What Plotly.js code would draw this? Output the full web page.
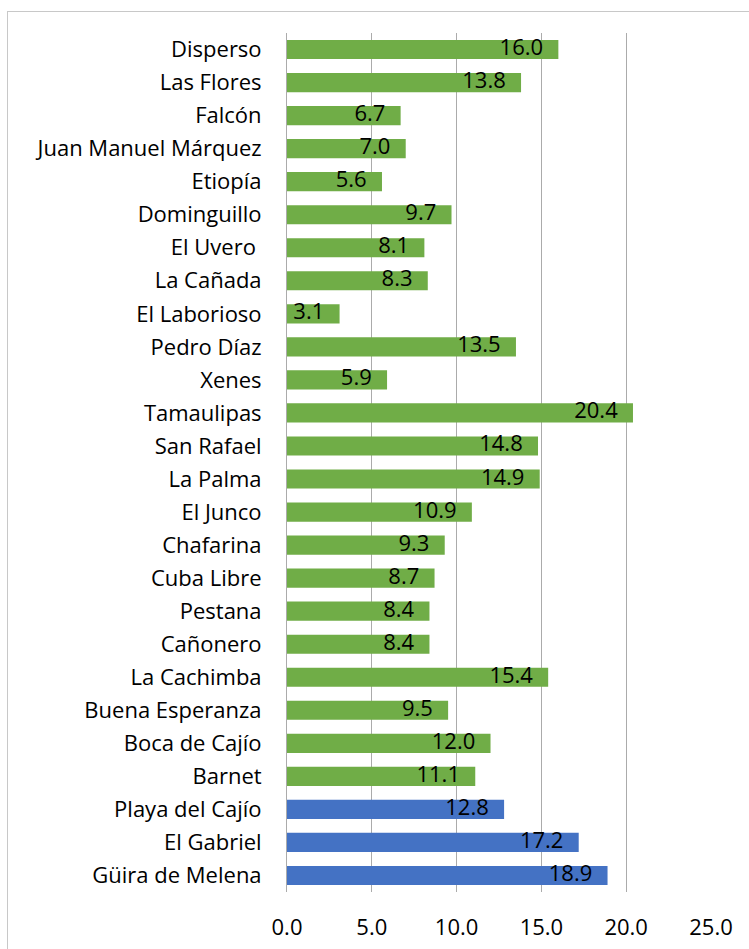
<!DOCTYPE html>
<html>
<head>
<meta charset="utf-8">
<script src="https://cdn.plot.ly/plotly-3.0.1.min.js"></script>
<style>
  html, body { margin: 0; padding: 0; background: #fff; }
  #frame { position: absolute; left: 7px; top: 11px; width: 900px; height: 1100px; border: 1px solid #c8c8c8; box-sizing: border-box; }
  #chart { position: absolute; left: 0; top: 0; width: 749px; height: 949px; }
</style>
</head>
<body>
<div id="frame"></div>
<div id="chart"></div>
<script>
const categories = ["Disperso", "Las Flores", "Falcón", "Juan Manuel Márquez", "Etiopía", "Dominguillo",
  "El Uvero ", "La Cañada", "El Laborioso", "Pedro Díaz", "Xenes", "Tamaulipas", "San Rafael", "La Palma",
  "El Junco", "Chafarina", "Cuba Libre", "Pestana", "Cañonero", "La Cachimba", "Buena Esperanza",
  "Boca de Cajío", "Barnet", "Playa del Cajío", "El Gabriel", "Güira de Melena"];
const values = [16.0, 13.8, 6.7, 7.0, 5.6, 9.7, 8.1, 8.3, 3.1, 13.5, 5.9, 20.4, 14.8, 14.9,
  10.9, 9.3, 8.7, 8.4, 8.4, 15.4, 9.5, 12.0, 11.1, 12.8, 17.2, 18.9];
const groups = ["g","g","g","g","g","g","g","g","g","g","g","g","g","g","g","g","g","g","g","g","g","g","g","b","b","b"];
const tickVals = [0, 5, 10, 15, 20, 25];
const tickText = ["0.0", "5.0", "10.0", "15.0", "20.0", "25.0"];

const colorMap = { g: "#70AD47", b: "#4472C4" };
const FONT = "Open Sans, Liberation Sans, Arial, sans-serif";
const GRID = "#ababab";

const bars = {
  type: "bar", orientation: "h",
  x: values, y: categories,
  marker: { color: groups.map(g => colorMap[g]) },
  hoverinfo: "x+y"
};
// labels drawn on an overlaid x axis shifted slightly, to reproduce the inside-end padding
const labels = {
  type: "scatter", mode: "text",
  x: values, y: categories, xaxis: "x2",
  text: values.map(v => v.toFixed(1)),
  textposition: "middle left",
  textfont: { family: FONT, size: 22, color: "#000" },
  hoverinfo: "skip", cliponaxis: false
};

const layout = {
  width: 749, height: 949,
  margin: { l: 287, r: 38, t: 33, b: 57 },
  paper_bgcolor: "rgba(0,0,0,0)", plot_bgcolor: "rgba(0,0,0,0)",
  showlegend: false,
  bargap: 0.42,
  font: { family: FONT, size: 22, color: "#000" },
  xaxis: {
    range: [0, 25], tickvals: tickVals, ticktext: tickText,
    showgrid: true, gridcolor: GRID, gridwidth: 1,
    zeroline: false, showline: false, ticks: "",
    ticklabelstandoff: 20,
    tickfont: { family: FONT, size: 22, color: "#000" },
    fixedrange: true
  },
  xaxis2: {
    overlaying: "x", range: [0.9, 25.9],
    visible: false, showgrid: false, zeroline: false, fixedrange: true
  },
  yaxis: {
    type: "category", autorange: false, range: [categories.length - 0.5, -0.5],
    showgrid: false, zeroline: false, showline: true, linecolor: GRID, linewidth: 1,
    ticks: "", ticklabelstandoff: 20,
    tickfont: { family: FONT, size: 22, color: "#000" },
    fixedrange: true
  }
};

Plotly.newPlot("chart", [bars, labels], layout, { displayModeBar: false, staticPlot: true });
</script>
</body>
</html>
